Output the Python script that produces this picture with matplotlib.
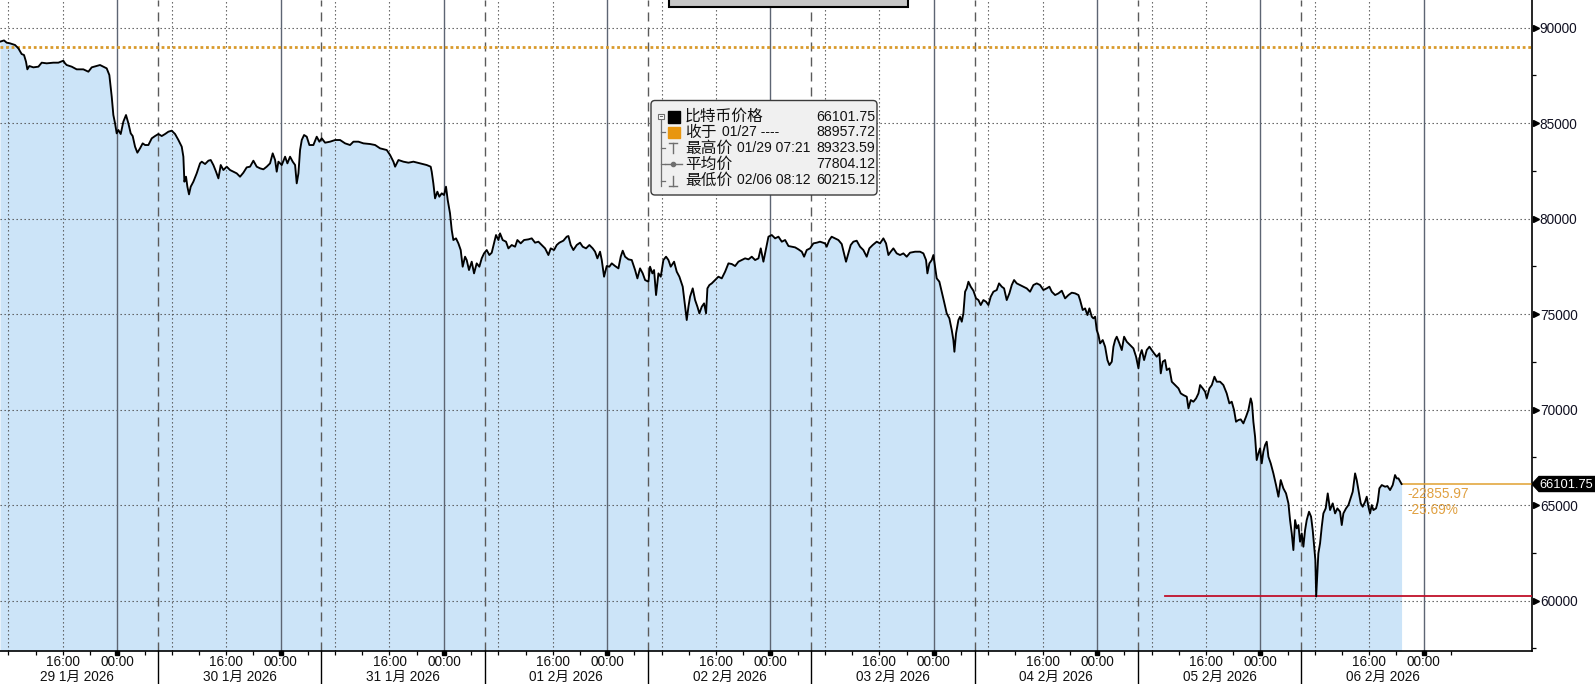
import matplotlib
matplotlib.use("Agg")
import matplotlib.pyplot as plt
import matplotlib.transforms as mtransforms
from matplotlib.patches import FancyBboxPatch, Polygon, Rectangle
from matplotlib.lines import Line2D
from matplotlib.ticker import MultipleLocator, NullFormatter

plt.rcParams['font.family'] = ['Liberation Sans', 'Noto Sans CJK SC', 'DejaVu Sans']

# ---------------- data (hours since 2026-01-29 00:00) ----------------
hours = [
    6.76, 7.35, 7.74, 8.23, 8.97, 9.46, 9.94, 10.29, 10.58, 10.78,
    11.07, 11.66, 12.40, 12.89, 13.62, 14.60, 15.34, 16.07, 16.32, 16.56,
    17.30, 18.03, 19.01, 19.75, 20.24, 20.97, 21.46, 21.95, 22.44, 22.83,
    23.18, 23.42, 23.67, 23.91, 24.16, 24.50, 24.89, 25.28, 25.63, 25.97,
    26.26, 26.61, 26.95, 27.34, 27.73, 28.08, 28.57, 29.06, 29.55, 30.04,
    30.53, 31.02, 31.51, 32.00, 32.49, 32.98, 33.47, 33.71, 33.86, 34.10,
    34.30, 34.54, 34.79, 35.18, 35.67, 36.16, 36.41, 36.90, 37.39, 37.73,
    38.12, 38.51, 38.86, 39.20, 39.59, 40.08, 40.57, 41.06, 41.55, 42.04,
    42.53, 43.02, 43.51, 44.00, 44.49, 44.98, 45.47, 45.96, 46.45, 46.84,
    47.19, 47.43, 47.68, 48.17, 48.66, 49.00, 49.39, 49.78, 50.13, 50.37,
    50.62, 50.86, 51.11, 51.45, 51.84, 52.23, 52.82, 53.31, 53.70, 54.05,
    54.54, 55.27, 56.01, 56.74, 57.48, 58.21, 58.70, 59.44, 60.17, 61.15,
    61.89, 62.62, 63.60, 64.09, 64.58, 64.83, 65.32, 66.05, 66.79, 67.52,
    68.49, 69.47, 70.06, 70.21, 70.45, 70.70, 71.04, 71.33, 71.68, 72.02,
    72.31, 72.56, 72.90, 73.15, 73.39, 73.78, 74.13, 74.47, 74.76, 75.11,
    75.35, 75.69, 76.09, 76.43, 76.82, 77.21, 77.56, 77.90, 78.29, 78.68,
    79.03, 79.37, 79.66, 80.01, 80.25, 80.64, 81.13, 81.48, 81.97, 82.46,
    82.80, 83.29, 83.78, 84.42, 84.91, 85.40, 85.89, 86.38, 86.87, 87.36,
    87.70, 88.19, 88.58, 88.97, 89.56, 90.05, 90.30, 90.64, 91.03, 91.52,
    92.01, 92.40, 92.89, 93.38, 93.87, 94.22, 94.56, 94.95, 95.20, 95.54,
    95.93, 96.32, 96.67, 97.16, 97.65, 97.99, 98.28, 98.63, 99.12, 99.61,
    100.10, 100.44, 100.83, 101.22, 101.57, 102.06, 102.30, 102.64, 102.89, 103.18,
    103.53, 103.87, 104.26, 104.65, 105.00, 105.34, 105.83, 106.22, 106.61, 107.10,
    107.45, 107.69, 107.94, 108.18, 108.57, 108.92, 109.26, 109.55, 109.90, 110.24,
    110.53, 110.73, 111.02, 111.37, 111.86, 112.35, 112.84, 113.33, 113.82, 114.31,
    114.80, 115.29, 115.78, 116.27, 116.76, 117.25, 117.74, 118.23, 118.57, 118.96,
    119.35, 119.70, 120.19, 120.68, 121.17, 121.66, 122.15, 122.64, 123.13, 123.62,
    124.11, 124.60, 124.94, 125.33, 125.82, 126.31, 126.80,
    127.28, 128.02, 128.26, 128.65, 128.99, 129.49, 129.98, 130.47, 130.81, 131.10,
    131.45, 131.79, 132.18, 132.67, 133.16, 133.65, 134.14, 134.53, 135.02, 135.61,
    136.10, 136.59, 136.98, 137.33, 137.67, 138.06, 138.55, 139.04, 139.53, 140.02,
    140.51, 141.25, 141.98, 142.47, 142.86, 143.06, 143.35, 143.70, 143.94, 144.19,
    144.43, 144.82, 145.17, 145.51, 145.90, 146.29, 146.64, 146.88, 147.03, 147.27,
    147.62, 147.86, 148.11, 148.35, 148.60, 148.84, 149.09, 149.43, 149.82, 150.21,
    150.56, 150.90, 151.29, 151.68, 152.03, 152.37, 152.76, 153.25, 153.59, 153.99,
    154.33, 154.72, 155.11, 155.46, 155.80, 156.19, 156.68, 157.17, 157.66, 158.15,
    158.64, 159.13, 159.62, 160.11, 160.60, 160.99, 161.34, 161.83, 162.32, 162.81,
    163.30, 163.79, 164.28, 164.77, 165.26, 165.50, 165.89, 166.24, 166.58, 166.87,
    167.22, 167.46, 167.71, 167.95, 168.20, 168.44, 168.83, 169.18, 169.52, 169.81,
    170.16, 170.40, 170.65, 170.89, 171.28, 171.63, 171.97, 172.36, 172.85, 173.34,
    173.73, 174.08, 174.32, 174.57, 174.91, 175.30, 175.69, 176.04, 176.38, 176.77,
    177.16, 177.36, 177.65, 177.99, 178.24, 178.63, 178.98, 179.47, 179.96, 180.30,
    180.69, 181.18, 181.43, 181.77, 182.16, 182.55, 182.90, 183.14, 183.53, 183.88,
    184.12, 184.51, 184.86, 185.25, 185.59,
    186.07, 186.56, 187.05, 187.44, 187.79, 188.13, 188.42, 188.77, 189.11, 189.50,
    189.89, 190.24, 190.58, 190.77, 190.97, 191.22, 191.46, 191.71, 191.95, 192.20,
    192.44, 192.69, 192.93, 193.18, 193.52, 193.91, 194.30, 194.65, 194.99, 195.38,
    195.77, 196.12, 196.36, 196.61, 196.85, 197.10, 197.34, 197.59, 197.83, 198.08,
    198.32, 198.57, 198.81, 199.15, 199.45, 199.69, 199.89, 200.08, 200.20, 200.38,
    200.52, 200.77, 201.02, 201.26, 201.60, 201.90, 202.24, 202.63, 202.98, 203.32,
    203.71, 203.96, 204.20, 204.59, 204.94, 205.18, 205.57, 205.92, 206.16, 206.41,
    206.75, 207.04, 207.39, 207.63, 207.88, 208.12, 208.37, 208.61, 209.00, 209.25,
    209.49, 209.84, 210.33, 210.67, 211.06, 211.45, 211.79, 212.04, 212.29, 212.75,
]

prices = [
    89258, 89324, 89206, 89171, 89084, 88909, 88612, 88560, 88211, 87810,
    87984, 87914, 87949, 88159, 88124, 88159, 88159, 88263, 88124, 88036,
    87949, 87810, 87810, 87687, 87914, 87984, 88036, 87949, 87862, 87513,
    86379, 85419, 84982, 84459, 84633, 84424, 85070, 85419, 84982, 84459,
    84319, 83761, 83447, 83674, 83935, 83848, 83848, 84197, 84319, 84424,
    84319, 84424, 84546, 84598, 84424, 84110, 83761, 83237, 81928, 82190,
    81666, 81265, 81666, 81928, 82365, 82888, 82976, 82853, 83028, 83063,
    82801, 82452, 82103, 82801, 82539, 82714, 82539, 82452, 82365, 82190,
    82400, 82679, 82714, 83028, 82714, 82627, 82575, 82714, 82888, 83412,
    83063, 82452, 82976, 82801, 83237, 82888, 83237, 82976, 82801, 81841,
    82365, 83586, 84110, 84372, 84284, 83848, 83848, 84284, 84023, 84197,
    83970, 84023, 84110, 84110, 83935, 83848, 84023, 84023, 83935, 83900,
    83848, 83674, 83586, 83325, 82976, 82714, 83063, 82976, 82923, 82976,
    82888, 82801, 82714, 82452, 81841, 81056, 81405, 81143, 81318, 81230,
    81667, 80969, 80271, 79398, 78875, 78962, 78700, 78351, 77478, 78002,
    77827, 77304, 77741, 77129, 77653, 77478, 77915, 78176, 78351, 78089,
    78211, 78700, 79136, 78875, 79224, 78875, 78787, 78438, 78613, 78525,
    78875, 78700, 78875, 78909, 78962, 78735, 78787, 78613, 78438, 78089,
    78438, 78351, 78613, 78735, 78840, 79049, 79084, 78613, 78351, 78613,
    78735, 78525, 78438, 78613, 78438, 78264, 77915, 78264, 77827, 76955,
    77513, 77478, 77653, 77513, 77391, 78002, 78316, 78002, 77862, 77827,
    77304, 76867, 77391, 77129, 76780, 76693, 77478, 77129, 77304, 75995,
    77129, 76955, 77827, 78002, 77827, 77478, 77741, 77217, 76955, 76431,
    75384, 74686, 75384, 75908, 76344, 75733, 75384, 75035, 75384, 75559,
    75035, 76344, 76518, 76606, 76780, 76955, 76867, 77217, 77653, 77618,
    77513, 77741, 77827, 77915, 77862, 78002, 77827, 77915, 78438, 77741,
    78438, 79049, 79136, 78962, 79049, 78787, 78875, 78560, 78525, 78490,
    78386, 78264, 78002, 78351, 78438, 78700, 78735,
    78787, 78699, 78525, 78874, 79048, 78961, 78874, 78664, 78176, 77739,
    78176, 78612, 78787, 78839, 78525, 78350, 78001, 78438, 78612, 78787,
    78699, 78961, 78699, 78089, 78263, 78438, 78176, 78089, 78176, 78001,
    78211, 78263, 78263, 78176, 77827, 77129, 77652, 77827, 78089, 77478,
    76867, 76692, 76169, 75645, 75034, 74773, 74162, 73638, 73027, 73987,
    74685, 74860, 74598, 75034, 76169, 76343, 76692, 76431, 76221, 75820,
    75732, 75471, 75732, 75645, 75471, 75907, 76169, 76256, 76605, 76431,
    76343, 75732, 76082, 76518, 76780, 76605, 76518, 76431, 76343, 76169,
    76518, 76605, 76518, 76256, 76343, 76431, 76169, 75994, 76082, 76221,
    75820, 75994, 76117, 76082, 75994, 75732, 75209, 75296, 74947, 75296,
    74860, 74773, 74860, 74162, 73900, 73464, 73638, 73289, 72591, 72329,
    72504, 73289, 73638, 73813, 73464, 73115, 73813, 73551, 73376, 73202,
    72766, 72155, 72853, 73115, 72591, 73115, 73289, 73115, 72940, 72766,
    72940, 71893, 72504, 72591, 72068, 72155, 71457, 71282, 71108, 70846,
    70758, 70671, 70061, 70497, 70410, 70584, 70846, 71282, 71108, 70933,
    70584, 71108, 71282, 71719, 71457,
    71458, 71283, 70847, 70323, 70411, 69974, 69363, 69451, 69486, 69276,
    69625, 69974, 70585, 70323, 69363, 68578, 67356, 67705, 67967, 67182,
    67793, 68142, 68316, 67531, 67182, 66658, 66047, 65437, 66309, 65873,
    65611, 65088, 64215, 63517, 62645, 64215, 63779, 63953, 63081, 63517,
    62819, 63691, 64215, 64651, 64390, 63691, 62906, 62121, 60215.12, 61423,
    62470, 62993, 63866, 64564, 64826, 65611, 64739, 65088, 64564, 64826,
    64651, 63953, 64564, 64826, 65000, 65262, 65698, 66658, 66309, 65786,
    65088, 64913, 65175, 65437, 64913, 64564, 65000, 64739, 64826, 65175,
    65873, 66047, 65960, 65995, 65786, 66047, 66571, 66396, 66396, 66101.75,
]

prev_close = 88957.72
last_price = 66101.75
low_price = 60215.12
low_line_start = 178.0

y_ticks = [60000, 65000, 70000, 75000, 80000, 85000, 90000]
day_labels = ["29 1月 2026", "30 1月 2026", "31 1月 2026", "01 2月 2026", "02 2月 2026",
              "03 2月 2026", "04 2月 2026", "05 2月 2026", "06 2月 2026"]
legend_names = ["比特币价格", "收于", "最高价", "平均价", "最低价"]
legend_details = ["", "01/27 ----", "01/29 07:21", "", "02/06 08:12"]
legend_values = ["66101.75", "88957.72", "89323.59", "77804.12", "60215.12"]

# ---------------- figure ----------------
W, H = 1595, 684
FS = 9.8
fig = plt.figure(figsize=(W / 100, H / 100), dpi=100)
ax = fig.add_axes([0, 33 / H, 1532 / W, 651 / H])
XMIN, XMAX = 6.76, 231.92
YMIN, YMAX = 57360, 91440
ax.set_xlim(XMIN, XMAX)
ax.set_ylim(YMIN, YMAX)

for s in ['top', 'left']:
    ax.spines[s].set_visible(False)
for s in ['right', 'bottom']:
    ax.spines[s].set_color('black')
    ax.spines[s].set_linewidth(1.2)

ndays = len(day_labels)
midnights = [24 * (k + 1) for k in range(ndays)]
sixteens = [16 + 24 * k for k in range(ndays)]
eights = [8 + 24 * k for k in range(ndays)]
seps = [30 + 24 * k for k in range(ndays - 1)]
centers = [18 + 24 * k for k in range(ndays)]
minor_x = list(range(8, 221, 4))

# fill + grid
ax.fill_between(hours, prices, YMIN, color='#cce4f8', lw=0, zorder=1)
for y in y_ticks:
    ax.axhline(y, color='#505050', lw=0.8, ls=(0, (1.2, 2.4)), zorder=2)
for h in eights + sixteens:
    ax.axvline(h, color='#505050', lw=0.8, ls=(0, (1.2, 2.4)), zorder=2)
for h in midnights:
    ax.axvline(h, color='#5d6573', lw=1.0, zorder=2)
for h in seps:
    ax.axvline(h, color='#5a5a5a', lw=1.0, ls=(0, (6.5, 4.3)), zorder=2)

# reference lines
ax.axhline(prev_close, color='#d99a2b', lw=2.0, ls=(0, (1, 1)), zorder=3)
ax.plot([low_line_start, XMAX], [low_price, low_price], color='#c0102a', lw=1.3, zorder=3)
ax.plot([hours[-1], XMAX], [last_price, last_price], color='#e0a030', lw=1.1, zorder=3)

# price line
ax.plot(hours, prices, color='black', lw=1.35, zorder=5)

# y axis on the right
ax.yaxis.tick_right()
ax.set_yticks(y_ticks)
ax.set_yticklabels([str(v) for v in y_ticks])
ax.yaxis.set_minor_locator(MultipleLocator(2500))
ax.yaxis.set_minor_formatter(NullFormatter())
ax.tick_params(axis='y', which='major', length=0, pad=5.6, labelsize=FS, labelcolor='#111122')
ax.tick_params(axis='y', which='minor', length=3, width=0.9, direction='out', color='black')
tri_tr = mtransforms.blended_transform_factory(ax.transAxes, ax.transData) + \
    mtransforms.ScaledTranslation(3.5 / 100, 0, fig.dpi_scale_trans)
ax.plot([1] * len(y_ticks), y_ticks, ls='none', marker='>', ms=5, color='black',
        transform=tri_tr, clip_on=False, zorder=6)

# x axis
ax.set_xticks([])
ax.set_xticks(minor_x, minor=True)
ax.tick_params(axis='x', which='minor', length=3, width=0.9, direction='out', color='black')
bl = mtransforms.blended_transform_factory(ax.transData, ax.transAxes)
sq_tr = bl + mtransforms.ScaledTranslation(0, -1.5 / 100, fig.dpi_scale_trans)
ax.plot(midnights, [0] * len(midnights), ls='none', marker='s', ms=2.4, color='black',
        transform=sq_tr, clip_on=False, zorder=6)
for h in seps:
    ax.plot([h, h], [0, -40 / 651], color='black', lw=1.0, transform=bl, clip_on=False)
for h in sixteens:
    ax.annotate('16:00', xy=(h, 0), xycoords=('data', 'axes fraction'), xytext=(0, -11),
                textcoords='offset pixels', ha='center', va='center', fontsize=FS, color='#111111')
for h in midnights:
    ax.annotate('00:00', xy=(h, 0), xycoords=('data', 'axes fraction'), xytext=(0, -11),
                textcoords='offset pixels', ha='center', va='center', fontsize=FS, color='#111111')
for h, lab in zip(centers, day_labels):
    ax.annotate(lab, xy=(h, 0), xycoords=('data', 'axes fraction'), xytext=(0, -26),
                textcoords='offset pixels', ha='center', va='center', fontsize=FS, color='#111111')

# change annotations
chg = last_price - prev_close
pct = chg / prev_close * 100
ax.annotate(f"{chg:.2f}", xy=(hours[-1], last_price), xytext=(6, -9.5), textcoords='offset pixels',
            ha='left', va='center', fontsize=FS, color='#e0a040', zorder=7)
ax.annotate(f"{pct:.2f}%", xy=(hours[-1], last_price), xytext=(6, -25.5), textcoords='offset pixels',
            ha='left', va='center', fontsize=FS, color='#e0a040', zorder=7)

# ---------------- overlays in pixel coords (origin top-left) ----------------
pix = mtransforms.Affine2D().scale(1 / W, -1 / H).translate(0, 1) + fig.transFigure

fig.canvas.draw()
renderer = fig.canvas.get_renderer()

# last price tag
tag_y = H - ax.transData.transform((XMAX, last_price))[1]
tag = Polygon([(1532, tag_y), (1539, tag_y - 7.5), (1600, tag_y - 7.5), (1600, tag_y + 7.5), (1539, tag_y + 7.5)],
              closed=True, facecolor='black', edgecolor='black', transform=pix, zorder=10)
fig.add_artist(tag)
fig.text(1539.5, tag_y + 0.5, f"{last_price:.2f}", transform=pix, color='white', fontsize=9.3,
         ha='left', va='center', zorder=11)

# top toolbar remnant
fig.add_artist(Rectangle((669, -4), 239, 11, transform=pix, facecolor='#c6c6c6',
                         edgecolor='black', lw=1.5, zorder=10, clip_on=False))

# legend box
fig.add_artist(FancyBboxPatch((651, 100.5), 226, 94.5, boxstyle='round,pad=0,rounding_size=4',
                              transform=pix, facecolor='#f0f0f0', edgecolor='#3a3a3a', lw=1.0, zorder=10))
rows = [116.7, 132.3, 148.3, 164.3, 180.5]
gray = '#6f6f6f'
fig.add_artist(Rectangle((658, 113.5), 5.5, 5.5, transform=pix, facecolor='white', edgecolor=gray, lw=0.8, zorder=11))
fig.add_artist(Line2D([659.5, 662.3], [116.2, 116.2], transform=pix, color=gray, lw=0.8, zorder=12))
fig.add_artist(Line2D([660.7, 660.7], [119.5, 186], transform=pix, color=gray, lw=0.9, zorder=11))
for r in rows[1:]:
    fig.add_artist(Line2D([660.7, 665], [r, r], transform=pix, color=gray, lw=0.9, zorder=11))
fig.add_artist(Rectangle((668, rows[0] - 5.5), 11.5, 11.5, transform=pix, facecolor='black', edgecolor='black', zorder=11))
fig.add_artist(Rectangle((668, rows[1] - 5.5), 11.5, 11.5, transform=pix, facecolor='#e8960f', edgecolor='#e8960f', zorder=11))
fig.add_artist(Line2D([669, 677], [rows[2] - 5, rows[2] - 5], transform=pix, color=gray, lw=1, zorder=11))
fig.add_artist(Line2D([673, 673], [rows[2] - 5, rows[2] + 5], transform=pix, color=gray, lw=1, zorder=11))
fig.add_artist(Line2D([665, 682], [rows[3], rows[3]], transform=pix, color=gray, lw=1, zorder=11))
fig.add_artist(Line2D([673], [rows[3]], transform=pix, color=gray, marker='o', ms=3, zorder=12))
fig.add_artist(Line2D([673, 673], [rows[4] - 5, rows[4] + 5], transform=pix, color=gray, lw=1, zorder=11))
fig.add_artist(Line2D([669, 677], [rows[4] + 5, rows[4] + 5], transform=pix, color=gray, lw=1, zorder=11))
for r, name, det, val in zip(rows, legend_names, legend_details, legend_values):
    t = fig.text(685, r, name, transform=pix, fontsize=11.3, ha='left', va='center',
                 color='#111111', zorder=12)
    if det:
        ext = t.get_window_extent(renderer=renderer)
        fig.text(ext.x1 / W + 5 / W, 1 - r / H, det, transform=fig.transFigure, fontsize=10,
                 ha='left', va='center', color='#111111', zorder=12)
    fig.text(816.5, r, val, transform=pix, fontsize=10.2, ha='left', va='center', color='#111111', zorder=12)

fig.savefig('out.png', dpi=100, facecolor='white')
